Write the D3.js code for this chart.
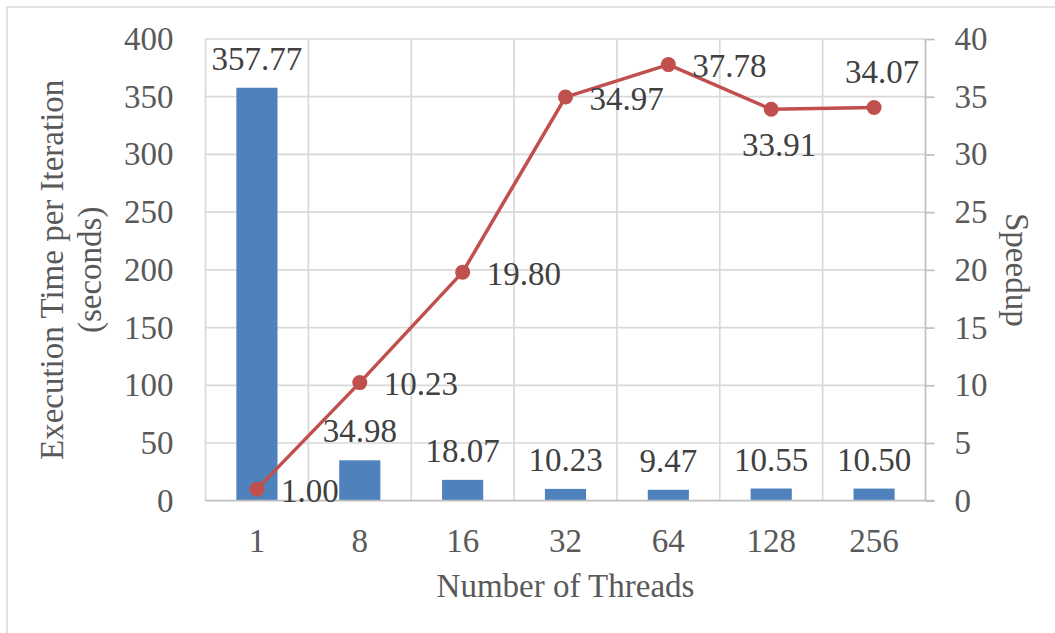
<!DOCTYPE html>
<html lang="en">
<head>
  <meta charset="UTF-8">
  <title>Execution Time and Speedup</title>
  <script src="https://d3js.org/d3.v7.min.js"></script>
  <style>
    body { margin: 0; background: #fff; }
    text { font-family: "Liberation Serif", "DejaVu Serif", serif; }
    .tick text { fill: #595959; font-size: 33px; }
    .lbl { fill: #404040; font-size: 33px; }
    .title { fill: #595959; font-size: 33px; }
  </style>
</head>
<body>
  <script>
    const threads = ["1", "8", "16", "32", "64", "128", "256"];
    const execTime = [357.77, 34.98, 18.07, 10.23, 9.47, 10.55, 10.50];
    const speedup = [1.00, 10.23, 19.80, 34.97, 37.78, 33.91, 34.07];
    const speedupLabelPos = ["right", "right", "right", "right", "right", "below", "above"];
    const leftTicks = [0, 50, 100, 150, 200, 250, 300, 350, 400];
    const rightTicks = [0, 5, 10, 15, 20, 25, 30, 35, 40];

    const W = 1055, H = 633;
    const plot = {left: 205.5, right: 925.5, top: 39, bottom: 500.7};

    const svg = d3.select("body").append("svg")
      .attr("width", W)
      .attr("height", H);

    // chart border
    svg.append("rect")
      .attr("x", 7).attr("y", 7)
      .attr("width", W + 20).attr("height", H + 20)
      .attr("fill", "none")
      .attr("stroke", "#d9d9d9")
      .attr("stroke-width", 1.5);

    const x = d3.scaleBand().domain(threads).range([plot.left, plot.right]).padding(0);
    const yL = d3.scaleLinear().domain([0, 400]).range([plot.bottom, plot.top]);
    const yR = d3.scaleLinear().domain([0, 40]).range([plot.bottom, plot.top]);

    // horizontal gridlines
    svg.append("g").selectAll("line")
      .data(leftTicks.slice(1))
      .enter().append("line")
        .attr("x1", plot.left).attr("x2", plot.right)
        .attr("y1", d => yL(d)).attr("y2", d => yL(d))
        .attr("stroke", "#d9d9d9").attr("stroke-width", 1.7);

    // vertical gridlines at category boundaries
    svg.append("g").selectAll("line")
      .data(threads)
      .enter().append("line")
        .attr("x1", d => x(d)).attr("x2", d => x(d))
        .attr("y1", plot.top).attr("y2", plot.bottom)
        .attr("stroke", "#d9d9d9").attr("stroke-width", 1.7);

    // left axis (labels only)
    const gL = svg.append("g")
      .attr("transform", "translate(" + plot.left + ",0)")
      .call(d3.axisLeft(yL).tickValues(leftTicks).tickSize(0).tickPadding(32));
    gL.select(".domain").remove();
    gL.selectAll("text").attr("font-family", null).attr("font-size", null);

    // right axis
    const gR = svg.append("g")
      .attr("transform", "translate(" + plot.right + ",0)")
      .call(d3.axisRight(yR).tickValues(rightTicks).tickSize(9).tickPadding(20));
    gR.select(".domain").attr("stroke", "#bfbfbf").attr("stroke-width", 1.7).attr("d", "M0," + plot.top + "V" + plot.bottom);
    gR.selectAll(".tick line").attr("stroke", "#bfbfbf").attr("stroke-width", 1.7);
    gR.selectAll("text").attr("font-family", null).attr("font-size", null);

    // bars
    const barW = x.bandwidth() / 2.5;
    svg.append("g").selectAll("rect")
      .data(execTime)
      .enter().append("rect")
        .attr("x", (d, i) => x(threads[i]) + (x.bandwidth() - barW) / 2)
        .attr("y", d => yL(d))
        .attr("width", barW)
        .attr("height", d => plot.bottom - yL(d))
        .attr("fill", "#4f81bd");

    // bottom axis
    const gB = svg.append("g")
      .attr("transform", "translate(0," + plot.bottom + ")")
      .call(d3.axisBottom(x).tickSize(0).tickPadding(28));
    gB.select(".domain").attr("stroke", "#bfbfbf").attr("stroke-width", 1.7)
      .attr("d", "M" + plot.left + ",0H" + (plot.right + 9));
    gB.selectAll("text").attr("font-family", null).attr("font-size", null);

    // bar labels
    svg.append("g").selectAll("text")
      .data(execTime)
      .enter().append("text")
        .attr("class", "lbl")
        .attr("x", (d, i) => x(threads[i]) + x.bandwidth() / 2)
        .attr("y", d => yL(d) - 18)
        .attr("text-anchor", "middle")
        .text(d => d.toFixed(2));

    // speedup line
    const cx = (d, i) => x(threads[i]) + x.bandwidth() / 2;
    svg.append("path")
      .datum(speedup)
      .attr("fill", "none")
      .attr("stroke", "#c0504d")
      .attr("stroke-width", 3.5)
      .attr("stroke-linejoin", "round")
      .attr("d", d3.line().x(cx).y(d => yR(d)));

    svg.append("g").selectAll("circle")
      .data(speedup)
      .enter().append("circle")
        .attr("cx", cx)
        .attr("cy", d => yR(d))
        .attr("r", 7.5)
        .attr("fill", "#c0504d");

    svg.append("g").selectAll("text")
      .data(speedup)
      .enter().append("text")
        .attr("class", "lbl")
        .attr("x", (d, i) => speedupLabelPos[i] === "right" ? cx(d, i) + 24 : cx(d, i) + 8)
        .attr("y", (d, i) => {
          const p = speedupLabelPos[i];
          if (p === "below") return yR(d) + 47;
          if (p === "above") return yR(d) - 24;
          return yR(d) + 1;
        })
        .attr("dy", (d, i) => speedupLabelPos[i] === "right" ? "0.35em" : null)
        .attr("text-anchor", (d, i) => speedupLabelPos[i] === "right" ? "start" : "middle")
        .text(d => d.toFixed(2));

    // axis titles
    svg.append("text")
      .attr("class", "title")
      .attr("x", (plot.left + plot.right) / 2)
      .attr("y", 597)
      .attr("text-anchor", "middle")
      .text("Number of Threads");

    const yTitle = svg.append("text")
      .attr("class", "title")
      .attr("text-anchor", "middle")
      .attr("transform", "translate(63," + (plot.top + plot.bottom) / 2 + ") rotate(-90)");
    yTitle.append("tspan").attr("x", 0).attr("y", 0).text("Execution Time per Iteration");
    yTitle.append("tspan").attr("x", 0).attr("y", 38).text("(seconds)");

    svg.append("text")
      .attr("class", "title")
      .attr("text-anchor", "middle")
      .attr("transform", "translate(1006," + (plot.top + plot.bottom) / 2 + ") rotate(90)")
      .text("Speedup");
  </script>
</body>
</html>
